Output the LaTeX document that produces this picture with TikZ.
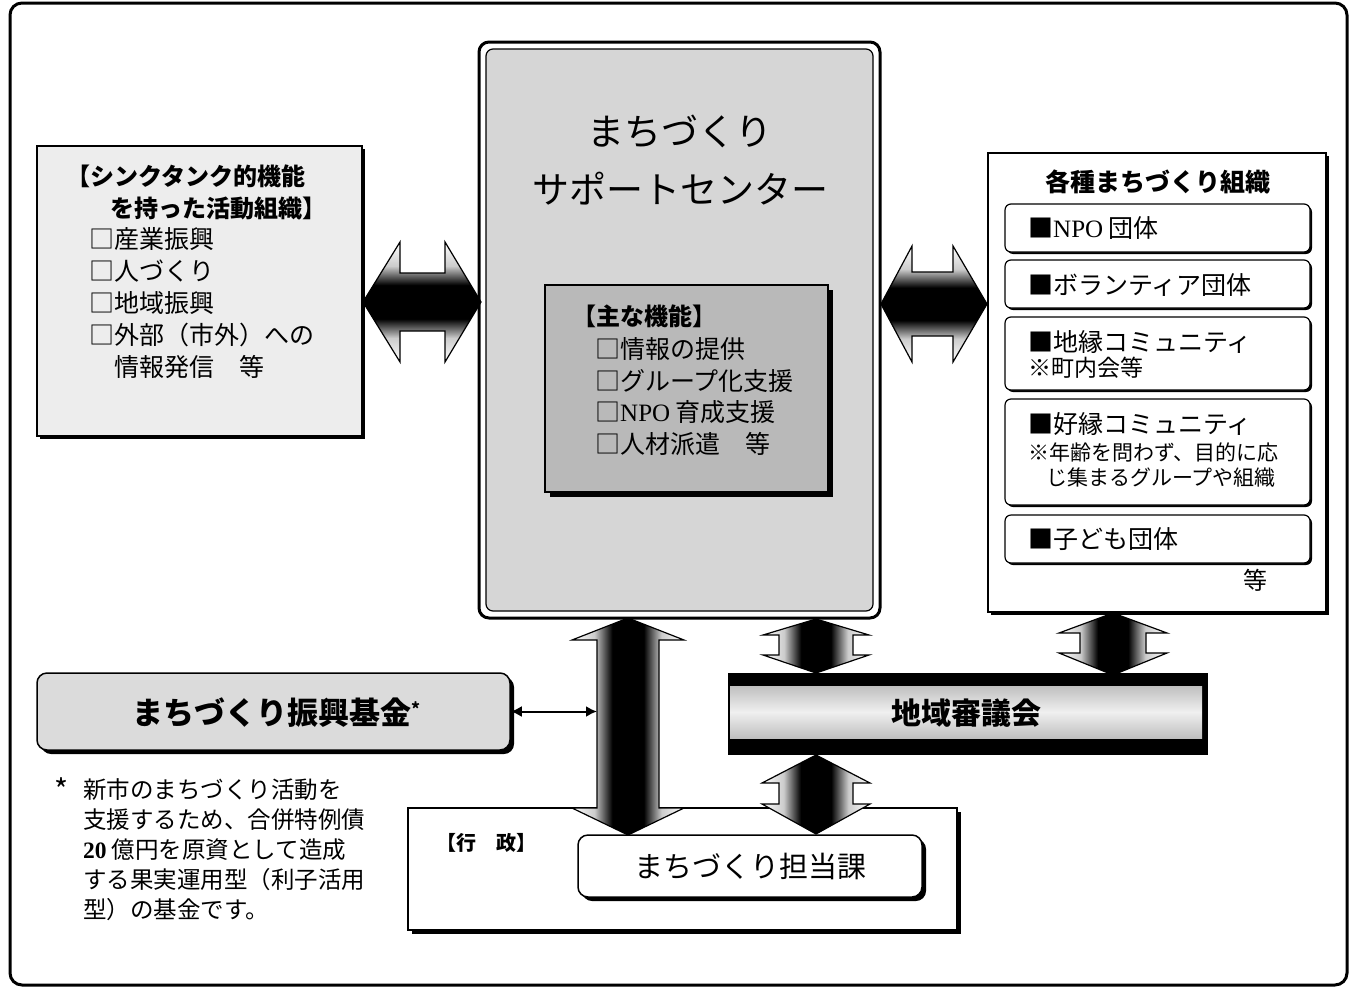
\documentclass[tikz,border=0pt]{standalone}
\usepackage{fontspec}
\setmainfont{Noto Sans CJK JP}
\newfontfamily\lat{Liberation Serif}
\usetikzlibrary{arrows.meta,shadows}
\pgfdeclareverticalshading{arrV}{100bp}{color(0bp)=(white); color(25bp)=(white); color(35bp)=(gray!40); color(43bp)=(black); color(57bp)=(black); color(65bp)=(gray!40); color(75bp)=(white); color(100bp)=(white)}
\pgfdeclarehorizontalshading{arrH}{100bp}{color(0bp)=(white); color(25bp)=(white); color(35bp)=(gray!40); color(43bp)=(black); color(57bp)=(black); color(65bp)=(gray!40); color(75bp)=(white); color(100bp)=(white)}
\newcommand{\fs}[1]{\fontsize{#1}{#1}\selectfont}
% horizontal double block arrow: left tip x, right tip x, centre y, head half, shaft half, left head len, right head len
\newcommand{\HArrow}[7]{%
\shadedraw[blockarrow, shading=arrV] (#1,#3) -- ({#1+#6},{#3-#4}) -- ({#1+#6},{#3-#5}) -- ({#2-#7},{#3-#5}) -- ({#2-#7},{#3-#4}) -- (#2,#3) -- ({#2-#7},{#3+#4}) -- ({#2-#7},{#3+#5}) -- ({#1+#6},{#3+#5}) -- ({#1+#6},{#3+#4}) -- cycle;}
% vertical double block arrow: top tip y, bottom tip y, centre x, head half, shaft half, top head len, bottom head len
\newcommand{\VArrow}[7]{%
\shadedraw[blockarrow, shading=arrH] (#3,#1) -- ({#3-#4},{#1+#6}) -- ({#3-#5},{#1+#6}) -- ({#3-#5},{#2-#7}) -- ({#3-#4},{#2-#7}) -- (#3,#2) -- ({#3+#4},{#2-#7}) -- ({#3+#5},{#2-#7}) -- ({#3+#5},{#1+#6}) -- ({#3+#4},{#1+#6}) -- cycle;}
\tikzset{
  blockarrow/.style={draw=black, line width=1.2pt, line join=miter},
  shad/.style={drop shadow={shadow xshift=#1, shadow yshift=-#1, fill=black, opacity=1}},
  box/.style={draw=black, line width=1.5pt, inner sep=0pt},
  subbox/.style={draw=black, line width=1.2pt, rounded corners=6pt, fill=white, inner sep=0pt, minimum width=305pt, shad=2pt},
  tw/.style={inner sep=0pt, anchor=west, font=\fs{#1}},
  tc/.style={inner sep=0pt, font=\fs{#1}},
  twb/.style={inner sep=0pt, anchor=west, font=\fs{#1}\bfseries},
  tcb/.style={inner sep=0pt, font=\fs{#1}\bfseries},
}
\begin{document}
\begin{tikzpicture}[x=1pt, y=-1pt]
\useasboundingbox (0,0) rectangle (1359,988);
\fill[white] (0,0) rectangle (1359,988);
% outer frame
\draw[line width=3pt, rounded corners=12pt] (10,3) rectangle (1347,985);

% left think-tank box
\node[box, fill=gray!14, minimum width=325pt, minimum height=290pt, shad=3pt] (think) at (199.5,291) {};
\node[twb=24] (t1) at (66,176) {【シンクタンク的機能};
\node[twb=24] (t2) at (110,208) {を持った活動組織】};
\node[tw=25] (t3) at (89,239) {□産業振興};
\node[tw=25] (t4) at (89,271) {□人づくり};
\node[tw=25] (t5) at (89,303) {□地域振興};
\node[tw=25] (t6) at (89,335) {□外部（市外）への};
\node[tw=25] (t7) at (114,367) {情報発信　等};

% centre support center
\node[draw=black, line width=3pt, rounded corners=10pt, fill=white, minimum width=401pt, minimum height=576pt, inner sep=0pt] (center) at (679.5,330) {};
\draw[line width=1.2pt, rounded corners=7pt, fill=gray!32] (486,49) rectangle (873,611);
\node[tc=37] (c1) at (680,131) {まちづくり};
\node[tc=37] (c2) at (680,189) {サポートセンター};
\node[box, fill=gray!55, minimum width=283pt, minimum height=207pt, shad=5pt] (func) at (686.5,388.5) {};
\node[twb=24] (f1) at (572,316) {【主な機能】};
\node[tw=25] (f2) at (595,349) {□情報の提供};
\node[tw=25] (f3) at (595,381) {□グループ化支援};
\node[tw=25] (f4) at (595,412) {□{\lat NPO} 育成支援};
\node[tw=25] (f5) at (595,444) {□人材派遣　等};

% right organisations box
\node[box, fill=white, minimum width=338pt, minimum height=459pt, shad=3pt] (orgs) at (1157,382.5) {};
\node[tcb=25] (o0) at (1158,182) {各種まちづくり組織};
\node[subbox, minimum height=48pt] (s1) at (1157.5,228) {};
\node[subbox, minimum height=48pt] (s2) at (1157.5,284) {};
\node[subbox, minimum height=73pt] (s3) at (1157.5,353.5) {};
\node[subbox, minimum height=106pt] (s4) at (1157.5,452) {};
\node[subbox, minimum height=48pt] (s5) at (1157.5,539) {};
\node[tw=25] (o1) at (1028,228) {■{\lat NPO} 団体};
\node[tw=25] (o2) at (1028,285) {■ボランティア団体};
\node[tw=25] (o3) at (1028,342) {■地縁コミュニティ};
\node[tw=23] (o3b) at (1028,368) {※町内会等};
\node[tw=25] (o4) at (1028,424) {■好縁コミュニティ};
\node[tw=21] (o4b) at (1028,452) {※年齢を問わず、目的に応};
\node[tw=21] (o4c) at (1046,478) {じ集まるグループや組織};
\node[tw=25] (o5) at (1028,539) {■子ども団体};
\node[tc=24] (o6) at (1255,580) {等};

% fund box
\node[box, fill=gray!28, rounded corners=10pt, minimum width=473pt, minimum height=77pt, shad=4pt] (fund) at (273.5,711.5) {};
\node[tcb=31] (fundt) at (276,713) {まちづくり振興基金\raisebox{9pt}{\fs{17}*}};
\node[tc=30] (star) at (62,790) {*};
\node[tw=23.5] (n1) at (83,790) {新市のまちづくり活動を};
\node[tw=23.5] (n2) at (83,820) {支援するため、合併特例債};
\node[tw=23.5] (n3) at (83,850) {{\lat\bfseries 20} 億円を原資として造成};
\node[tw=23.5] (n4) at (83,880) {する果実運用型（利子活用};
\node[tw=23.5] (n5) at (83,910) {型）の基金です。};

% administration
\node[box, fill=white, minimum width=549pt, minimum height=122pt, shad=4pt] (gyosei) at (682.5,869) {};
\node[twb=20] (g1) at (436,843) {【行　政】};
\node[box, fill=white, rounded corners=10pt, minimum width=344pt, minimum height=62pt, shad=4pt] (tanto) at (750,866) {};
\node[tc=29] (tantot) at (750,866) {まちづくり担当課};

% regional council bar
\node[fill=black, minimum width=480pt, minimum height=82pt, inner sep=0pt] (bar) at (968,714) {};
\shade[top color=gray!50, bottom color=gray!50, middle color=gray!12] (730,686) rectangle (1202,738);
\node[tcb=30] (bart) at (966,713) {地域審議会};

% block arrows
\HArrow{363}{481}{302}{60}{29}{37}{36}
\HArrow{881}{987}{304}{58}{32}{31}{34}
\VArrow{618}{835}{628}{56}{31}{22}{27}
\VArrow{619}{673}{816}{53}{37}{16}{18}
\VArrow{613}{675}{1113}{54}{33}{20}{22}
\VArrow{755}{834}{816}{54}{37}{28}{30}

% fund link
\coordinate (shaftL) at (597,711.5);
\draw[line width=2pt, {Latex[length=11pt,width=11pt]}-{Latex[length=11pt,width=11pt]}] (fund.east) -- (shaftL);
\end{tikzpicture}
\end{document}
